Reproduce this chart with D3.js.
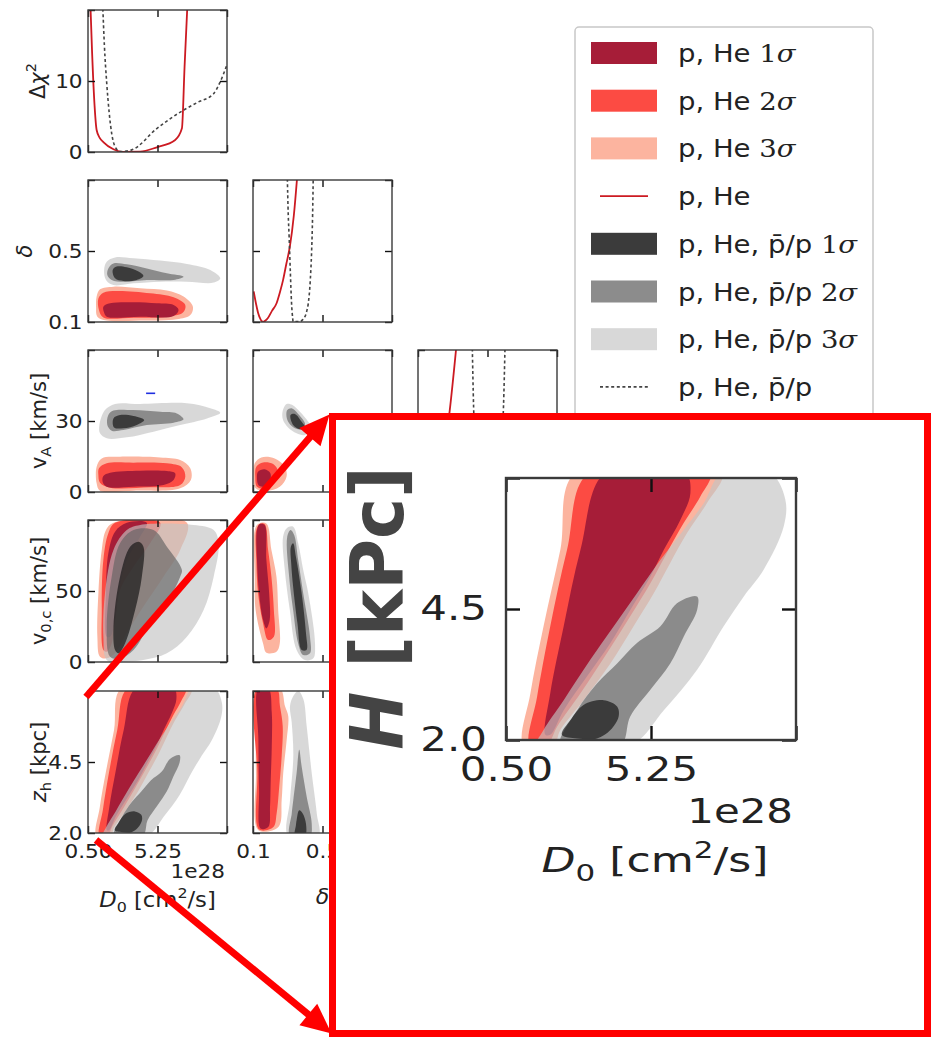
<!DOCTYPE html>
<html>
<head>
<meta charset="utf-8">
<script src="https://cdn.jsdelivr.net/npm/d3@7"></script>
<style>
  body { margin: 0; background: #fff; }
  svg { display: block; font-family: "DejaVu Sans", sans-serif; }
</style>
</head>
<body>
<svg width="932" height="1037"></svg>
<script>
// ---- axes: tick values and the labels printed for them ----
const ticksD0 = [0.5, 5.25, 10.0];
const ticksDelta = [0.1, 0.5, 0.9];
const ticksVA = [0, 30, 60];
const ticksV0c = [0, 50, 100];
const ticksZh = [2.0, 4.5, 7.0];
const ticksChi = [0, 10, 20];
const labelsD0 = ['0.50', '5.25', ''];
const labelsDelta = ['0.1', '0.5', ''];
const labelsVA = ['0', '30', ''];
const labelsV0c = ['0', '50', ''];
const labelsZh = ['2.0', '4.5', ''];
const labelsChi = ['0', '10', ''];

// ---- profile likelihoods, [param, delta chi2] ----
const chiD0Red = [[0.66,21],[0.78,14],[0.95,6.5],[1.09,3.1],[1.3,2.0],[1.55,1.4],[2.24,0.38],[2.8,0.03],[4.06,0.05],[5.2,0.66],[6.46,1.69],[6.92,3.33],[7.1,12],[7.3,21]];
const chiD0Gray = [[1.5,21],[1.62,15],[1.78,9.7],[1.95,5.5],[2.12,2.6],[2.35,0.75],[2.69,0.05],[3.49,0.3],[5.2,3.3],[7.03,5.9],[8.0,7.0],[9.08,8.2],[9.54,9.9],[10.0,12.3]];
const chiDeltaRed = [[0.104,4.3],[0.118,2.5],[0.129,1.3],[0.145,0.3],[0.158,0.03],[0.172,0.2],[0.187,0.6],[0.21,1.6],[0.235,2.6],[0.255,4.2],[0.273,5.9],[0.292,8.2],[0.312,10.6],[0.335,15],[0.356,21]];
const chiDeltaGray = [[0.297,21],[0.303,15],[0.308,12],[0.315,7],[0.322,2.6],[0.328,0.6],[0.331,0.05],[0.37,0.05],[0.385,0.3],[0.399,0.75],[0.41,1.6],[0.418,2.6],[0.43,6],[0.437,9.7],[0.443,15],[0.447,21]];
const chiVARed = [[1,4],[3,1.2],[5,0.1],[7,0.5],[9,2],[11,5],[13.7,11.5],[16.7,21]];
const chiVAGray = [[23.4,21],[24.0,12],[25,5],[27,1],[30,0],[33,1],[35.5,5],[36.9,12],[37.6,21]];

// ---- 2D contours, each list is [1 sigma, 2 sigma, 3 sigma] ----
const d0DeltaRed = [
  [[1.55,0.186],[2.01,0.205],[3.61,0.211],[5.20,0.205],[6.35,0.196],[6.69,0.168],[6.35,0.134],[4.06,0.130],[1.78,0.130],[1.60,0.153]],
  [[1.21,0.233],[1.55,0.265],[2.46,0.275],[4.75,0.262],[6.35,0.239],[7.15,0.196],[6.99,0.153],[5.89,0.130],[3.61,0.124],[1.55,0.126],[1.25,0.168]],
  [[1.09,0.243],[1.32,0.284],[2.24,0.299],[4.06,0.290],[5.89,0.277],[7.03,0.243],[7.67,0.186],[7.49,0.139],[6.57,0.115],[4.06,0.108],[1.78,0.108],[1.14,0.130],[1.05,0.186]]
];
const d0DeltaGray = [
  [[2.19,0.393],[2.46,0.412],[3.15,0.408],[3.95,0.384],[4.29,0.359],[3.83,0.337],[2.92,0.331],[2.35,0.346]],
  [[1.89,0.402],[2.24,0.430],[3.15,0.425],[4.52,0.402],[5.89,0.374],[7.03,0.355],[6.35,0.337],[4.52,0.337],[2.92,0.327],[2.12,0.337],[1.82,0.365]],
  [[1.60,0.393],[1.78,0.440],[2.35,0.464],[3.61,0.459],[5.43,0.446],[7.26,0.427],[8.86,0.393],[9.54,0.346],[9.09,0.322],[7.26,0.327],[5.43,0.327],[3.61,0.318],[2.24,0.308],[1.73,0.337]]
];
const d0VARed = [
  [[1.55,6.76],[2.01,8.17],[4.06,9.01],[5.89,8.87],[6.46,7.89],[6.35,5.07],[5.66,2.96],[3.61,2.25],[1.78,2.25],[1.50,4.37]],
  [[1.25,10.0],[1.78,12.1],[3.61,12.4],[5.89,12.1],[6.92,10.4],[7.15,6.48],[6.80,2.96],[4.75,1.97],[2.01,1.83],[1.32,3.94],[1.21,7.18]],
  [[1.09,10.7],[1.44,14.2],[2.69,14.9],[5.43,14.6],[6.80,13.5],[7.49,10.0],[7.53,5.07],[6.80,1.55],[3.61,0.56],[1.32,0.56],[1.09,3.66]]
];
const d0VAGray = [
  [[2.24,31.1],[2.69,32.5],[3.61,32.1],[4.34,30.4],[3.83,28.3],[2.92,26.9],[2.28,27.3]],
  [[1.89,32.5],[2.24,34.4],[3.61,34.6],[5.43,33.9],[6.57,33.2],[7.03,30.7],[6.35,29.3],[4.52,28.3],[2.92,26.2],[2.12,25.9],[1.82,28.3]],
  [[1.28,28.3],[1.66,34.6],[2.35,37.2],[4.06,37.2],[7.26,37.5],[8.86,35.4],[9.54,33.5],[8.63,31.1],[6.80,28.3],[4.98,25.5],[3.15,23.1],[1.78,22.7],[1.32,24.8]]
];
const d0VABlue = [[4.47,41.7],[5.09,41.7]];
const deltaVARed = [
  [[0.129,8.59],[0.167,9.58],[0.200,7.89],[0.196,4.37],[0.158,2.25],[0.131,2.96],[0.123,5.77]],
  [[0.119,10.7],[0.158,12.5],[0.216,11.8],[0.245,8.59],[0.225,4.37],[0.167,1.55],[0.123,2.25],[0.113,6.48]],
  [[0.110,12.1],[0.148,14.6],[0.225,14.2],[0.283,10.7],[0.293,6.48],[0.254,2.25],[0.177,0.56],[0.115,1.55],[0.104,6.48]]
];
const deltaVAGray = [
  [[0.316,32.5],[0.341,33.0],[0.380,29.7],[0.399,27.3],[0.370,26.5],[0.331,28.3]],
  [[0.297,34.6],[0.322,35.4],[0.360,33.0],[0.399,29.0],[0.389,26.5],[0.341,26.9],[0.308,29.0],[0.293,31.8]],
  [[0.270,33.9],[0.293,37.2],[0.327,36.8],[0.370,33.9],[0.418,29.7],[0.437,26.9],[0.399,24.1],[0.351,24.8],[0.302,27.3],[0.273,30.4]]
];
const d0V0cRed = [
  [[1.78,17.8],[1.73,48.4],[1.89,76.5],[2.35,91.8],[3.15,98],[4.52,98],[4.06,88.2],[3.15,71.8],[2.58,48.4],[2.35,29.6],[2.01,17.8]],
  [[1.55,8.45],[1.44,36.6],[1.55,71.8],[1.89,90.6],[2.35,98],[5.43,98],[4.75,83.6],[3.61,67.1],[2.69,50.7],[2.35,29.6],[2.12,13.1],[1.78,7.28]],
  [[1.32,3.76],[1.14,17.8],[1.21,48.4],[1.44,78.9],[1.73,92.9],[2.24,98],[7.26,98],[6.80,78.9],[5.66,60.1],[4.29,39.0],[3.15,20.2],[2.35,6.10],[1.78,2.58]]
];
const d0V0cGray = [
  [[2.35,8.45],[2.24,24.9],[2.69,60.1],[3.38,81.2],[3.95,84.7],[4.29,81.2],[4.18,60.1],[3.72,36.6],[3.03,13.1],[2.58,6.10]],
  [[2.01,3.76],[1.78,24.9],[2.12,60.1],[2.69,83.6],[3.61,92.9],[4.98,92.9],[5.89,81.2],[6.92,64.8],[6.80,60.1],[6.12,46.0],[4.75,27.2],[3.61,8.45],[2.69,2.58]],
  [[1.78,1.41],[1.55,17.8],[1.66,48.4],[2.24,78.9],[3.15,92.9],[4.06,96.5],[7.72,96.5],[9.09,92.9],[9.43,83.6],[9.09,60.1],[8.40,36.6],[7.26,17.8],[5.89,6.10],[4.29,1.41],[2.69,0.23]]
];
const deltaV0cRed = [
  [[0.123,92.9],[0.139,97.2],[0.167,96.5],[0.177,71.8],[0.193,48.4],[0.196,29.6],[0.177,23.7],[0.158,29.6],[0.135,48.4],[0.123,71.8]],
  [[0.119,92.9],[0.139,97.2],[0.167,97.2],[0.187,78.9],[0.206,60.1],[0.220,36.6],[0.220,17.8],[0.187,15.5],[0.158,27.2],[0.129,48.4],[0.119,71.8]],
  [[0.110,92.9],[0.129,97.2],[0.177,97.6],[0.206,78.9],[0.235,60.1],[0.245,36.6],[0.254,13.1],[0.235,7.28],[0.177,6.6],[0.158,13.1],[0.115,36.6],[0.110,60.1]]
];
const deltaV0cGray = [
  [[0.318,81.2],[0.331,83.6],[0.347,74.2],[0.380,48.4],[0.405,20.2],[0.408,8.45],[0.380,8.45],[0.356,27.2],[0.331,53.0],[0.320,69.4]],
  [[0.297,88.2],[0.316,92.9],[0.337,89.4],[0.360,71.8],[0.389,48.4],[0.428,17.8],[0.428,6.10],[0.389,4.93],[0.360,13.1],[0.331,36.6],[0.308,60.1]],
  [[0.273,88.2],[0.293,94.1],[0.331,95.3],[0.360,83.6],[0.389,64.8],[0.418,48.4],[0.457,13.1],[0.447,2.58],[0.399,1.41],[0.351,8.45],[0.312,36.6],[0.283,64.8]]
];
const d0ZhRed = [
  [[1.79,2.10],[1.95,2.89],[2.39,4.17],[2.94,5.63],[3.75,7.1],[6.37,7.1],[6.54,6.71],[6.21,6.20],[5.67,5.63],[5.23,5.12],[4.57,4.48],[3.92,3.85],[3.15,3.21],[2.39,2.57],[1.95,2.10]],
  [[1.28,1.9],[1.52,2.83],[1.95,4.17],[2.50,5.63],[3.21,7.1],[7.19,7.1],[6.87,6.65],[6.32,6.14],[5.77,5.57],[5.23,4.99],[4.57,4.36],[3.81,3.66],[2.94,2.89],[2.17,2.25],[1.84,1.9]],
  [[1.08,1.9],[1.30,2.89],[1.73,4.17],[2.28,5.63],[2.77,7.1],[7.58,7.1],[7.08,6.52],[6.43,5.95],[5.88,5.38],[5.34,4.80],[4.68,4.17],[3.92,3.46],[3.04,2.76],[2.28,2.19],[2.06,1.9]]
];
const d0ZhGray = [
  [[2.33,2.10],[2.61,2.38],[3.04,2.67],[3.70,2.76],[4.14,2.64],[4.19,2.45],[3.92,2.19],[3.48,2.03],[2.83,2.03]],
  [[2.28,1.9],[2.83,2.57],[3.48,3.08],[4.14,3.46],[4.79,3.85],[5.56,4.17],[6.10,4.61],[6.76,4.74],[6.76,4.48],[6.32,3.97],[5.88,3.46],[5.23,2.96],[4.57,2.45],[4.25,1.9]],
  [[1.52,1.9],[1.73,2.19],[2.39,2.76],[3.26,3.53],[4.03,4.17],[4.79,4.80],[5.56,5.44],[6.32,6.01],[6.98,6.52],[7.58,7.1],[9.16,7.1],[9.65,6.59],[9.60,6.08],[8.94,5.25],[8.29,4.74],[7.63,4.17],[6.76,3.34],[5.67,2.57],[4.57,1.9]]
];
const deltaZhRed = [
  [[0.131,7.1],[0.188,7.1],[0.208,6.23],[0.208,5.05],[0.202,3.87],[0.198,2.92],[0.188,2.21],[0.144,2.16],[0.135,3.51],[0.131,5.29]],
  [[0.125,7.1],[0.236,7.1],[0.255,6.47],[0.271,5.76],[0.265,4.70],[0.251,3.63],[0.236,2.69],[0.217,2.21],[0.136,2.12],[0.125,4.11]],
  [[0.121,7.1],[0.255,7.1],[0.284,6.47],[0.303,6.11],[0.294,5.29],[0.274,4.11],[0.265,3.16],[0.246,2.21],[0.131,2.10],[0.117,4.11],[0.117,5.88]]
];
const deltaZhGray = [
  [[0.351,2.45],[0.366,2.80],[0.386,2.69],[0.405,2.33],[0.399,1.9],[0.342,1.9],[0.347,2.27]],
  [[0.332,3.16],[0.351,4.11],[0.366,4.93],[0.380,4.34],[0.409,3.28],[0.438,2.33],[0.428,1.9],[0.313,1.9],[0.323,2.69]],
  [[0.332,6.82],[0.361,7.0],[0.390,6.71],[0.409,5.76],[0.438,4.11],[0.467,2.69],[0.476,1.9],[0.303,1.9],[0.313,3.16],[0.332,4.70],[0.323,5.88],[0.313,6.47]]
];

// ---- legend ----
const legendText = ['p, He', 'p, He', 'p, He', 'p, He', 'p, He, p\u0304/p', 'p, He, p\u0304/p', 'p, He, p\u0304/p', 'p, He, p\u0304/p'];
const legendSigma = ['1', '2', '3', '', '1', '2', '3', ''];

// ---- styling ----
const redFill = ['#a61d38', '#fc4b43', '#fcb49f'];
const grayFill = ['#111111', '#636363', '#c3c3c3'];
const grayAlpha = 0.65;
const grayLegend = ['#3b3b3b', '#8c8c8c', '#d8d8d8'];
const redLine = '#cc1a22';
const dotLine = '#444';

const axes = {
  D0: {ticks: ticksD0, labels: labelsD0},
  delta: {ticks: ticksDelta, labels: labelsDelta},
  vA: {ticks: ticksVA, labels: labelsVA},
  v0c: {ticks: ticksV0c, labels: labelsV0c},
  zh: {ticks: ticksZh, labels: labelsZh},
  chi: {ticks: ticksChi, labels: labelsChi}
};

const colX = [88, 253, 418], rowY = [10, 180, 350, 520, 691];
const PW = 139, PH = 142;
const small = {len: 7, tw: 1.4, fw: 1.4, fs: 20, sx: 1.08, padX: 11, padY: 5};
const big = {len: 14, tw: 2.4, fw: 2.4, fs: 33, sx: 1.27, padX: 18, padY: 15};

const svg = d3.select('svg');
const defs = svg.append('defs');
let clipN = 0;

function scales(px, py, box) {
  return {
    x: d3.scaleLinear().domain(d3.extent(axes[px].ticks)).range([box.x, box.x + box.w]),
    y: d3.scaleLinear().domain(d3.extent(axes[py].ticks)).range([box.y + box.h, box.y])
  };
}

function clipFor(box) {
  const id = 'clip' + (clipN++);
  defs.append('clipPath').attr('id', id).append('rect')
    .attr('x', box.x).attr('y', box.y).attr('width', box.w).attr('height', box.h);
  return `url(#${id})`;
}

function frame(g, sc, px, py, st, showX, showY) {
  const [x0, x1] = sc.x.range(), [y1, y0] = sc.y.range();
  const ax = axes[px], ay = axes[py];
  const sides = [
    [d3.axisBottom(sc.x).tickValues(ax.ticks), 0, y1, showX ? ax.labels : null, st.padX],
    [d3.axisTop(sc.x).tickValues(ax.ticks), 0, y0, null, 0],
    [d3.axisLeft(sc.y).tickValues(ay.ticks), x0, 0, showY ? ay.labels : null, st.padY],
    [d3.axisRight(sc.y).tickValues(ay.ticks), x1, 0, null, 0]
  ];
  sides.forEach(([axis, tx, ty, labels, pad]) => {
    const a = g.append('g').attr('transform', `translate(${tx},${ty})`)
      .call(axis.tickSize(-st.len).tickPadding(pad).tickFormat((d, i) => labels ? labels[i] : ''));
    a.select('.domain').remove();
    a.attr('font-family', null).attr('font-size', null);
    a.selectAll('line').attr('stroke', '#111').attr('stroke-width', st.tw);
    a.selectAll('text').attr('fill', '#222').style('font-size', st.fs + 'px')
      .attr('transform', `scale(${st.sx},1)`);
  });
  g.append('rect').attr('x', x0).attr('y', y0).attr('width', x1 - x0).attr('height', y1 - y0)
    .attr('fill', 'none').attr('stroke', '#3a3a3a').attr('stroke-width', st.fw);
}

function contours(g, sc, red, gray, clip) {
  const blob = d3.line().x(d => sc.x(d[0])).y(d => sc.y(d[1]))
    .curve(d3.curveCatmullRomClosed.alpha(0.5));
  const cg = g.append('g').attr('clip-path', clip);
  [2, 1, 0].forEach(k => cg.append('path').attr('d', blob(red[k])).attr('fill', redFill[k]));
  [2, 1, 0].forEach(k => cg.append('path').attr('d', blob(gray[k]))
    .attr('fill', grayFill[k]).attr('fill-opacity', grayAlpha));
  return cg;
}

// rich text: parts are [text, kind] with kind '', 'i', 'sub', 'sup'
function rich(t, parts, fs) {
  let shift = 0;
  parts.forEach(([s, kind]) => {
    const target = kind === 'sub' ? 0.25 * fs : kind === 'sup' ? -0.42 * fs : 0;
    const ts = t.append('tspan').text(s);
    if (target !== shift) ts.attr('dy', target - shift);
    shift = target;
    if (kind === 'i') ts.attr('font-style', 'italic');
    if (kind === 'sub' || kind === 'sup') ts.attr('font-size', (0.7 * fs) + 'px');
  });
  return t;
}

function box(c, r) { return {x: colX[c], y: rowY[r], w: PW, h: PH}; }

const main = svg.append('g');

// diagonal profiles
function diag(c, r, p, red, gray) {
  const b = box(c, r), sc = scales(p, 'chi', b), clip = clipFor(b);
  const g = main.append('g');
  const ln = d3.line().x(d => sc.x(d[0])).y(d => sc.y(d[1])).curve(d3.curveMonotoneX);
  const cg = g.append('g').attr('clip-path', clip);
  cg.append('path').attr('d', ln(red)).attr('fill', 'none').attr('stroke', redLine).attr('stroke-width', 1.8);
  cg.append('path').attr('d', ln(gray)).attr('fill', 'none').attr('stroke', dotLine)
    .attr('stroke-width', 1.6).attr('stroke-dasharray', '3,2.6');
  frame(g, sc, p, 'chi', small, false, c === 0);
}

function pair(c, r, px, py, red, gray) {
  const b = box(c, r), sc = scales(px, py, b), clip = clipFor(b);
  const g = main.append('g');
  const cg = contours(g, sc, red, gray, clip);
  frame(g, sc, px, py, small, r === 4, c === 0);
  return {sc, cg};
}

diag(0, 0, 'D0', chiD0Red, chiD0Gray);
diag(1, 1, 'delta', chiDeltaRed, chiDeltaGray);
diag(2, 2, 'vA', chiVARed, chiVAGray);
pair(0, 1, 'D0', 'delta', d0DeltaRed, d0DeltaGray);
const pVA = pair(0, 2, 'D0', 'vA', d0VARed, d0VAGray);
pVA.cg.append('path').attr('d', d3.line().x(d => pVA.sc.x(d[0])).y(d => pVA.sc.y(d[1]))(d0VABlue))
  .attr('stroke', '#1f2fe0').attr('stroke-width', 1.6).attr('fill', 'none');
pair(1, 2, 'delta', 'vA', deltaVARed, deltaVAGray);
pair(0, 3, 'D0', 'v0c', d0V0cRed, d0V0cGray);
pair(1, 3, 'delta', 'v0c', deltaV0cRed, deltaV0cGray);
pair(0, 4, 'D0', 'zh', d0ZhRed, d0ZhGray);
pair(1, 4, 'delta', 'zh', deltaZhRed, deltaZhGray);

// axis titles
const rowTitles = [
  [[['\u0394', ''], ['\u03c7', 'i'], ['2', 'sup']], 45],
  [[['\u03b4', 'i']], 32],
  [[['v', ''], ['A', 'sub'], [' [km/s]', '']], 46],
  [[['v', ''], ['0,c', 'sub'], [' [km/s]', '']], 46],
  [[['z', 'i'], ['h', 'sub'], [' [kpc]', '']], 46]
];
rowTitles.forEach(([parts, bx], r) => {
  const t = main.append('text').attr('text-anchor', 'middle').attr('fill', '#222')
    .style('font-size', '21px')
    .attr('transform', `translate(${bx},${rowY[r] + PH / 2}) rotate(-90)`);
  rich(t, parts, 21);
});
const d0Title = [['D', 'i'], ['0', 'sub'], [' [cm', ''], ['2', 'sup'], ['/s]', '']];
rich(main.append('text').attr('text-anchor', 'middle').attr('fill', '#222').style('font-size', '21px')
  .attr('transform', `translate(${colX[0] + PW / 2},907) scale(1.08,1)`), d0Title, 21);
rich(main.append('text').attr('text-anchor', 'middle').attr('fill', '#222').style('font-size', '22px')
  .attr('transform', `translate(${colX[1] + PW / 2},904)`), [['\u03b4', 'i']], 22);
main.append('text').attr('text-anchor', 'end').attr('fill', '#222').style('font-size', '20px')
  .attr('transform', `translate(${colX[0] + PW - 2},878) scale(1.08,1)`).text('1e28');

// legend
const lg = svg.append('g');
lg.append('rect').attr('x', 575).attr('y', 27).attr('width', 298).attr('height', 430).attr('rx', 4)
  .attr('fill', '#fff').attr('stroke', '#c8c8c8').attr('stroke-width', 1.5);
legendText.forEach((txt, i) => {
  const cy = 53 + i * 47.7;
  if (i === 3 || i === 7) {
    lg.append('line').attr('x1', 600).attr('x2', 648).attr('y1', cy).attr('y2', cy)
      .attr('stroke', i === 3 ? redLine : dotLine).attr('stroke-width', i === 3 ? 1.8 : 1.6)
      .attr('stroke-dasharray', i === 3 ? null : '3,2.6');
  } else {
    const k = (i % 4);
    lg.append('rect').attr('x', 591).attr('y', cy - 11).attr('width', 66).attr('height', 22)
      .attr('fill', i < 3 ? redFill[k] : grayLegend[k]);
  }
  const t = lg.append('text').attr('fill', '#222').style('font-size', '25px')
    .attr('transform', `translate(678,${cy + 9}) scale(1.1,1)`).text(txt);
  if (legendSigma[i]) {
    t.append('tspan').text(' ' + legendSigma[i]).attr('font-family', 'DejaVu Serif');
    t.append('tspan').text('\u03c3').attr('font-family', 'DejaVu Serif').attr('font-style', 'italic');
  }
});

// zoomed inset of the z_h vs D0 panel
const inset = {x: 332.5, y: 416.5, w: 595, h: 617};
const ig = svg.append('g');
ig.append('rect').attr('x', inset.x).attr('y', inset.y).attr('width', inset.w).attr('height', inset.h)
  .attr('fill', '#fff').attr('stroke', '#ff0000').attr('stroke-width', 7);
const ib = {x: 506, y: 478, w: 290, h: 262};
const isc = scales('D0', 'zh', ib);
contours(ig, isc, d0ZhRed, d0ZhGray, clipFor(ib));
frame(ig, isc, 'D0', 'zh', big, true, true);
ig.append('text').attr('text-anchor', 'end').attr('fill', '#222').style('font-size', '33px')
  .attr('transform', `translate(${ib.x + ib.w - 3},823) scale(1.27,1)`).text('1e28');
rich(ig.append('text').attr('text-anchor', 'middle').attr('fill', '#222').style('font-size', '34px')
  .attr('transform', `translate(${ib.x + ib.w / 2 + 4},872) scale(1.3,1)`), d0Title, 34);
const hT = ig.append('text').attr('text-anchor', 'middle').attr('fill', '#444')
  .style('font-size', '73px').attr('font-weight', 'bold')
  .attr('transform', `translate(403,${ib.y + ib.h / 2 - 1}) rotate(-90) scale(0.95,1)`);
hT.append('tspan').text('H').attr('font-style', 'italic');
hT.append('tspan').text(' [kPc]');

// red arrows from the small panel to the inset
function arrow(x1, y1, x2, y2) {
  const dx = x2 - x1, dy = y2 - y1, L = Math.hypot(dx, dy), ux = dx / L, uy = dy / L;
  const hl = 30, hw = 14;
  svg.append('line').attr('x1', x1).attr('y1', y1).attr('x2', x2 - ux * (hl - 4)).attr('y2', y2 - uy * (hl - 4))
    .attr('stroke', '#ff0000').attr('stroke-width', 7);
  const bx = x2 - ux * hl, by = y2 - uy * hl;
  svg.append('path').attr('fill', '#ff0000')
    .attr('d', `M${x2},${y2}L${bx - uy * hw},${by + ux * hw}L${bx + uy * hw},${by - ux * hw}Z`);
}
const src = box(0, 4);
arrow(src.x - 2, src.y + 6, inset.x - 3, inset.y - 2);
arrow(src.x + 8, src.y + src.h + 7, inset.x - 1, inset.y + inset.h);
</script>
</body>
</html>
